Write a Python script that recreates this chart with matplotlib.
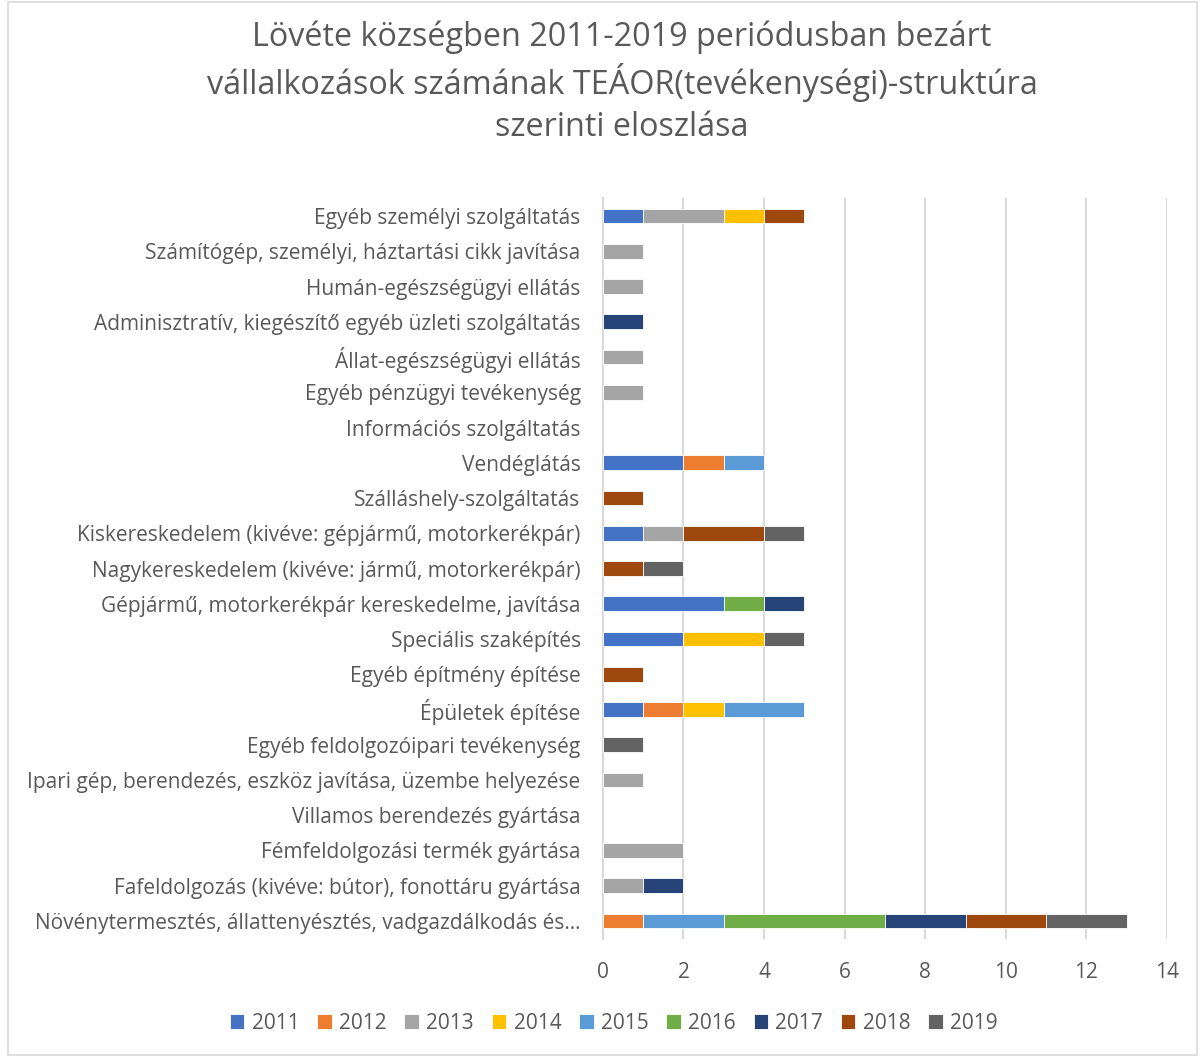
import numpy as np
import matplotlib.pyplot as plt
from matplotlib.patches import Rectangle

plt.rcParams['font.family'] = ['Open Sans', 'DejaVu Sans']

# categories, bottom to top
categories = [
    'Növénytermesztés, állattenyésztés, vadgazdálkodás és…',
    'Fafeldolgozás (kivéve: bútor), fonottáru gyártása',
    'Fémfeldolgozási termék gyártása',
    'Villamos berendezés gyártása',
    'Ipari gép, berendezés, eszköz javítása, üzembe helyezése',
    'Egyéb feldolgozóipari tevékenység',
    'Épületek építése',
    'Egyéb építmény építése',
    'Speciális szaképítés',
    'Gépjármű, motorkerékpár kereskedelme, javítása',
    'Nagykereskedelem (kivéve: jármű, motorkerékpár)',
    'Kiskereskedelem (kivéve: gépjármű, motorkerékpár)',
    'Szálláshely-szolgáltatás',
    'Vendéglátás',
    'Információs szolgáltatás',
    'Egyéb pénzügyi tevékenység',
    'Állat-egészségügyi ellátás',
    'Adminisztratív, kiegészítő egyéb üzleti szolgáltatás',
    'Humán-egészségügyi ellátás',
    'Számítógép, személyi, háztartási cikk javítása',
    'Egyéb személyi szolgáltatás',
]

years = ['2011', '2012', '2013', '2014', '2015', '2016', '2017', '2018', '2019']
colors = ['#4472C4', '#ED7D31', '#A5A5A5', '#FFC000', '#5B9BD5',
          '#70AD47', '#264478', '#9E480E', '#636363']

y2011 = [0, 0, 0, 0, 0, 0, 1, 0, 2, 3, 0, 1, 0, 2, 0, 0, 0, 0, 0, 0, 1]
y2012 = [1, 0, 0, 0, 0, 0, 1, 0, 0, 0, 0, 0, 0, 1, 0, 0, 0, 0, 0, 0, 0]
y2013 = [0, 1, 2, 0, 1, 0, 0, 0, 0, 0, 0, 1, 0, 0, 0, 1, 1, 0, 1, 1, 2]
y2014 = [0, 0, 0, 0, 0, 0, 1, 0, 2, 0, 0, 0, 0, 0, 0, 0, 0, 0, 0, 0, 1]
y2015 = [2, 0, 0, 0, 0, 0, 2, 0, 0, 0, 0, 0, 0, 1, 0, 0, 0, 0, 0, 0, 0]
y2016 = [4, 0, 0, 0, 0, 0, 0, 0, 0, 1, 0, 0, 0, 0, 0, 0, 0, 0, 0, 0, 0]
y2017 = [2, 1, 0, 0, 0, 0, 0, 0, 0, 1, 0, 0, 0, 0, 0, 0, 0, 1, 0, 0, 0]
y2018 = [2, 0, 0, 0, 0, 0, 0, 1, 0, 0, 1, 2, 1, 0, 0, 0, 0, 0, 0, 0, 1]
y2019 = [2, 0, 0, 0, 0, 1, 0, 0, 1, 0, 1, 1, 0, 0, 0, 0, 0, 0, 0, 0, 0]
series = [y2011, y2012, y2013, y2014, y2015, y2016, y2017, y2018, y2019]

title_lines = ['Lövéte községben 2011-2019 periódusban bezárt',
               'vállalkozások számának TEÁOR(tevékenységi)-struktúra',
               'szerinti eloszlása']

text_col = '#595959'
fig = plt.figure(figsize=(12.01, 10.57), dpi=100)
ax = fig.add_axes([0.502, 0.112, 0.4697, 0.7003])

pos = np.arange(len(categories))
left = np.zeros(len(categories))
for name, vals, c in zip(years, series, colors):
    vals = np.array(vals, dtype=float)
    nz = vals > 0
    ax.barh(pos[nz], vals[nz], left=left[nz], height=0.42, color=c, label=name,
            edgecolor='white', linewidth=0.6, zorder=3)
    left += vals

ax.set_xlim(0, 14)
ax.set_ylim(-0.5, len(categories) - 0.5)
ax.set_xticks(range(0, 15, 2))
ax.set_yticks(pos)
ax.set_yticklabels(categories)
ax.tick_params(axis='both', length=0, colors=text_col, labelsize=15)
ax.tick_params(axis='y', pad=16)
ax.tick_params(axis='x', pad=17)
ax.grid(axis='x', color='#D9D9D9', linewidth=1.5, zorder=0)
for s in ['top', 'right', 'bottom']:
    ax.spines[s].set_visible(False)
ax.spines['left'].set_color('#D9D9D9')
ax.spines['left'].set_linewidth(1.5)

for i, line in enumerate(title_lines):
    fig.text(0.518, 1 - (37 + 45.5 * i) / 1057, line, ha='center', va='center',
             fontsize=23.3, color=text_col)

fig.legend(loc='center', bbox_to_anchor=(0.511, 0.032), ncol=9, frameon=False,
           fontsize=15, labelcolor=text_col, handlelength=0.7, handleheight=0.7,
           handletextpad=0.35, columnspacing=0.85)

fig.patches.append(Rectangle((0.007, 0.002), 0.99, 0.996, transform=fig.transFigure,
                             fill=False, edgecolor='#D9D9D9', linewidth=1.2))

fig.savefig('out.png', dpi=100)
